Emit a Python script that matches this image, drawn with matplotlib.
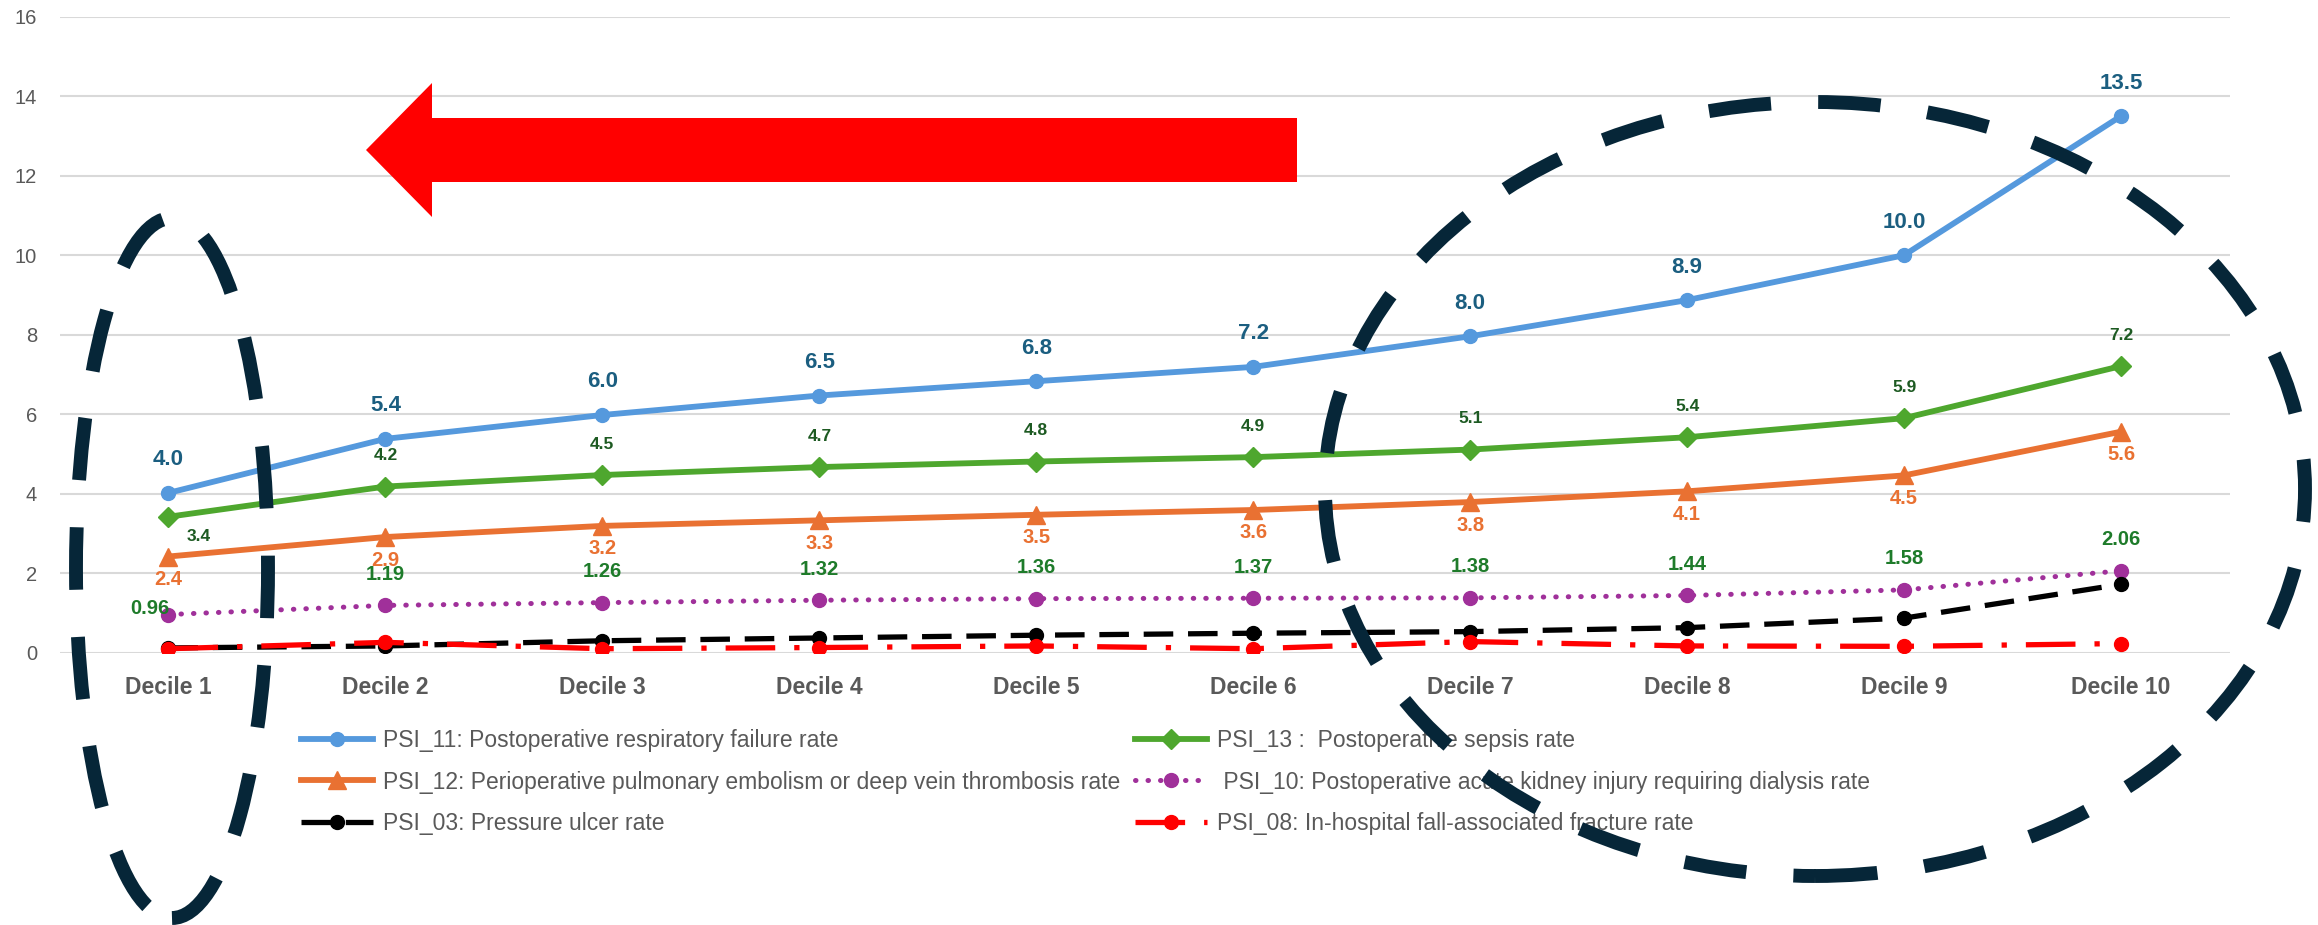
import numpy as np
import matplotlib
matplotlib.use("Agg")
import matplotlib.pyplot as plt
from matplotlib.patches import Ellipse, Polygon

plt.rcParams["font.family"] = ["Liberation Sans", "DejaVu Sans"]

# ── data ────────────────────────────────────────────────────────────────
deciles = [f"Decile {i}" for i in range(1, 11)]
psi_11 = [4.02, 5.38, 5.98, 6.47, 6.83, 7.19, 7.96, 8.87, 10.0, 13.5]
psi_13 = [3.42, 4.18, 4.47, 4.67, 4.81, 4.92, 5.11, 5.42, 5.90, 7.21]
psi_12 = [2.42, 2.91, 3.19, 3.33, 3.47, 3.59, 3.79, 4.06, 4.46, 5.56]
psi_10 = [0.96, 1.19, 1.26, 1.32, 1.36, 1.37, 1.38, 1.44, 1.58, 2.06]
psi_03 = [0.12, 0.17, 0.30, 0.37, 0.44, 0.49, 0.53, 0.63, 0.87, 1.72]
psi_08 = [0.10, 0.26, 0.10, 0.13, 0.17, 0.10, 0.28, 0.17, 0.16, 0.23]

lab_11 = "PSI_11: Postoperative respiratory failure rate"
lab_13 = "PSI_13 :  Postoperative sepsis rate"
lab_12 = "PSI_12: Perioperative pulmonary embolism or deep vein thrombosis rate"
lab_10 = " PSI_10: Postoperative acute kidney injury requiring dialysis rate"
lab_03 = "PSI_03: Pressure ulcer rate"
lab_08 = "PSI_08: In-hospital fall-associated fracture rate"

W, H = 2318, 925
GRAY = "#595959"

fig = plt.figure(figsize=(W / 100, H / 100), dpi=100)
fig.patch.set_facecolor("white")
ax = fig.add_axes([60 / W, 1 - 652.7 / H, (2229.5 - 60) / W, (652.7 - 16.7) / H])

x = np.arange(len(deciles))

l11, = ax.plot(x, psi_11, color="#5599DD", lw=4.2, marker="o", ms=10, label=lab_11, zorder=3)
l13, = ax.plot(x, psi_13, color="#4EA72E", lw=4.2, marker="D", ms=10, label=lab_13, zorder=3)
l12, = ax.plot(x, psi_12, color="#E97132", lw=4.2, marker="^", ms=13, label=lab_12, zorder=3)
l10, = ax.plot(x, psi_10, color="#A0309A", lw=3.6, ls=(0, (0.1, 2.4)),
               dash_capstyle="round", marker="o", ms=10, label=lab_10, zorder=3)
l03, = ax.plot(x, psi_03, color="black", lw=3.8, ls=(0, (5.6, 2.8)),
               marker="o", ms=10, label=lab_03, zorder=3)
l08, = ax.plot(x, psi_08, color="#FF0000", lw=3.8, ls=(0, (9.4, 3.6, 1.0, 3.6)),
               marker="o", ms=10, label=lab_08, zorder=4)

# ── data labels ─────────────────────────────────────────────────────────
def put_labels(vals, fmt, color, size, dy, special=None):
    for i, v in enumerate(vals):
        off = (0, dy)
        if special and i in special:
            off = special[i]
        ax.annotate(fmt.format(v), (x[i], v), xytext=off, textcoords="offset pixels",
                    ha="center", va="center", color=color, fontsize=size,
                    fontweight="bold", zorder=6)

put_labels(psi_11, "{:.1f}", "#1B5E80", 16, 33)
put_labels(psi_13, "{:.1f}", "#1D5A22", 12.5, 31, {0: (30, -20)})
put_labels(psi_12, "{:.1f}", "#E97132", 14.5, -23)
put_labels(psi_10, "{:.2f}", "#1E7B2A", 14.5, 31, {0: (-19, 6)})

# ── axes styling ────────────────────────────────────────────────────────
ax.set_xlim(-0.5, len(deciles) - 0.5)
ax.set_ylim(0, 16)
ax.set_yticks(range(0, 17, 2))
ax.set_xticks(x)
ax.set_xticklabels(deciles, fontsize=16.5, fontweight="bold", color=GRAY)
ax.tick_params(axis="x", length=0, pad=17)
ax.tick_params(axis="y", length=0, pad=16.5, labelsize=14.5, labelcolor=GRAY)
ax.yaxis.grid(True, color="#D9D9D9", lw=1.5)
ax.set_axisbelow(True)
for spine in ax.spines.values():
    spine.set_visible(False)

# ── legend (two columns) ────────────────────────────────────────────────
leg_kw = dict(loc="center left", frameon=False, borderpad=0, borderaxespad=0,
              handlelength=3.14, handletextpad=0.45, labelspacing=0.8,
              fontsize=16.5, labelcolor=GRAY)
fig.legend([l11, l12, l03], [lab_11, lab_12, lab_03],
           bbox_to_anchor=(301 / W, 1 - 782 / H), **leg_kw)
fig.legend([l13, l10, l08], [lab_13, lab_10, lab_08],
           bbox_to_anchor=(1135 / W, 1 - 782 / H), **leg_kw)

# ── annotations: arrow and dashed ellipses ──────────────────────────────
arrow_px = [(366, 150), (432, 83), (432, 118), (1297, 118),
            (1297, 182), (432, 182), (432, 217)]
fig.add_artist(Polygon([(px / W, 1 - py / H) for px, py in arrow_px],
                       closed=True, fc="#FF0000", ec="none",
                       transform=fig.transFigure, zorder=8))

ell_color = "#062638"
for cx, cy, ew, eh in [(172, 568, 192, 700), (1815, 489, 980, 774)]:
    fig.add_artist(Ellipse((cx / W, 1 - cy / H), ew / W, eh / H,
                           transform=fig.transFigure, fill=False,
                           ec=ell_color, lw=10, ls=(0, (4.5, 3.4)), zorder=9))

fig.savefig("out.png", dpi=100, facecolor="white")
